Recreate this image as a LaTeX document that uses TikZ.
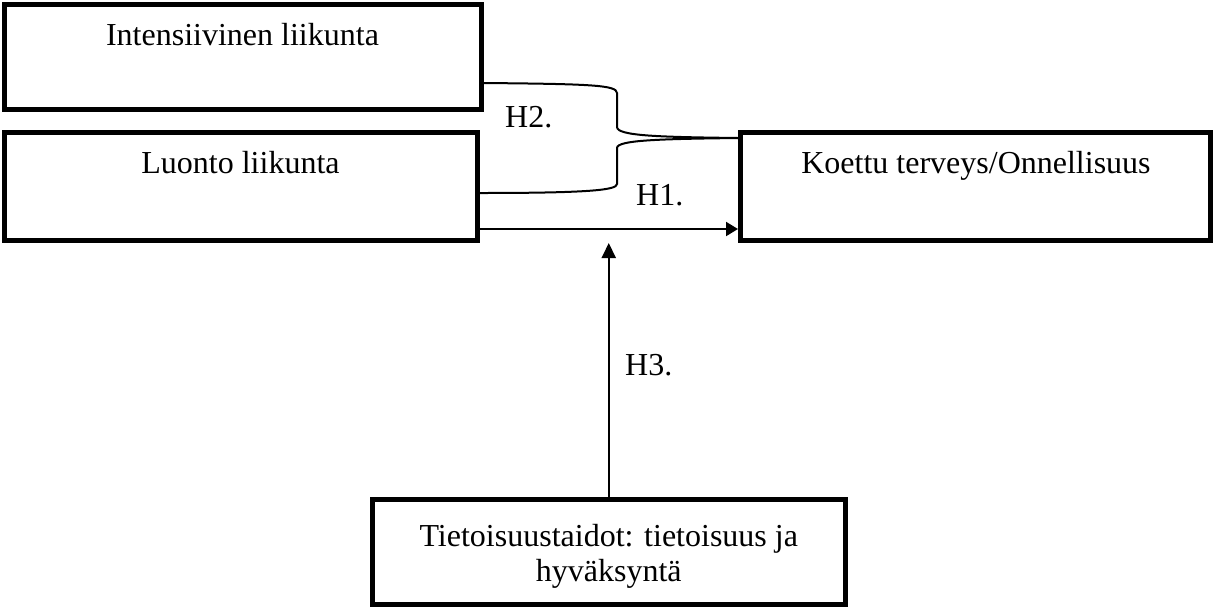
\documentclass[tikz,border=0pt]{standalone}
\usepackage{fontspec}
\setmainfont{Liberation Serif}
\usetikzlibrary{arrows.meta}
\begin{document}
\begin{tikzpicture}[x=1pt,y=-1pt,
  box/.style={draw,line width=5pt,inner sep=0pt,rectangle},
  txt/.style={inner sep=0pt,anchor=base,font=\fontsize{32}{35}\selectfont},
  conn/.style={line width=2pt},
  arr/.style={line width=2pt,-{Triangle[length=12pt,width=14pt]}}]
\useasboundingbox (0,0) rectangle (1214,611);
\node[box,minimum width=477pt,minimum height=105.5pt] (b1) at (242.5,56.75) {};
\node[box,minimum width=473.5pt,minimum height=108pt] (b2) at (240.75,186.5) {};
\node[box,minimum width=469.5pt,minimum height=108pt] (b3) at (975.25,186.5) {};
\node[box,minimum width=472.5pt,minimum height=105pt] (b4) at (608.75,552) {};
\node[txt] (t1) at (242.5,45) {Intensiivinen liikunta};
\node[txt] (t2) at (240.5,173) {Luonto liikunta};
\node[txt] (t3) at (976,173) {Koettu terveys/Onnellisuus};
\node[txt,align=center,anchor=north] (t4) at (608.75,524) {Tietoisuustaidot: tietoisuus ja\\hyväksyntä};
\node[txt,anchor=base west] (h2) at (505,127) {H2.};
\node[txt,anchor=base west] (h1) at (636,205) {H1.};
\node[txt,anchor=base west] (h3) at (625,375) {H3.};
\coordinate (tip) at (608.75,243);
\draw[conn] ([yshift=-26.25pt]b1.east) .. controls (590,84) and (617,85) .. (617,93) -- (617,127)
  .. controls (617,136) and (660,137) .. ([yshift=48.5pt]b3.west);
\draw[conn] ([yshift=48.5pt]b3.west) .. controls (660,139) and (617,140) .. (617,148) -- (617,184)
  .. controls (617,190) and (590,193) .. ([yshift=-6.5pt]b2.east);
\draw[arr] ([yshift=-42.5pt]b2.east) -- ([yshift=-42.5pt]b3.west);
\draw[line width=2pt,-{Triangle[length=15pt,width=14pt]}] (b4.north) -- (tip);
\end{tikzpicture}
\end{document}
